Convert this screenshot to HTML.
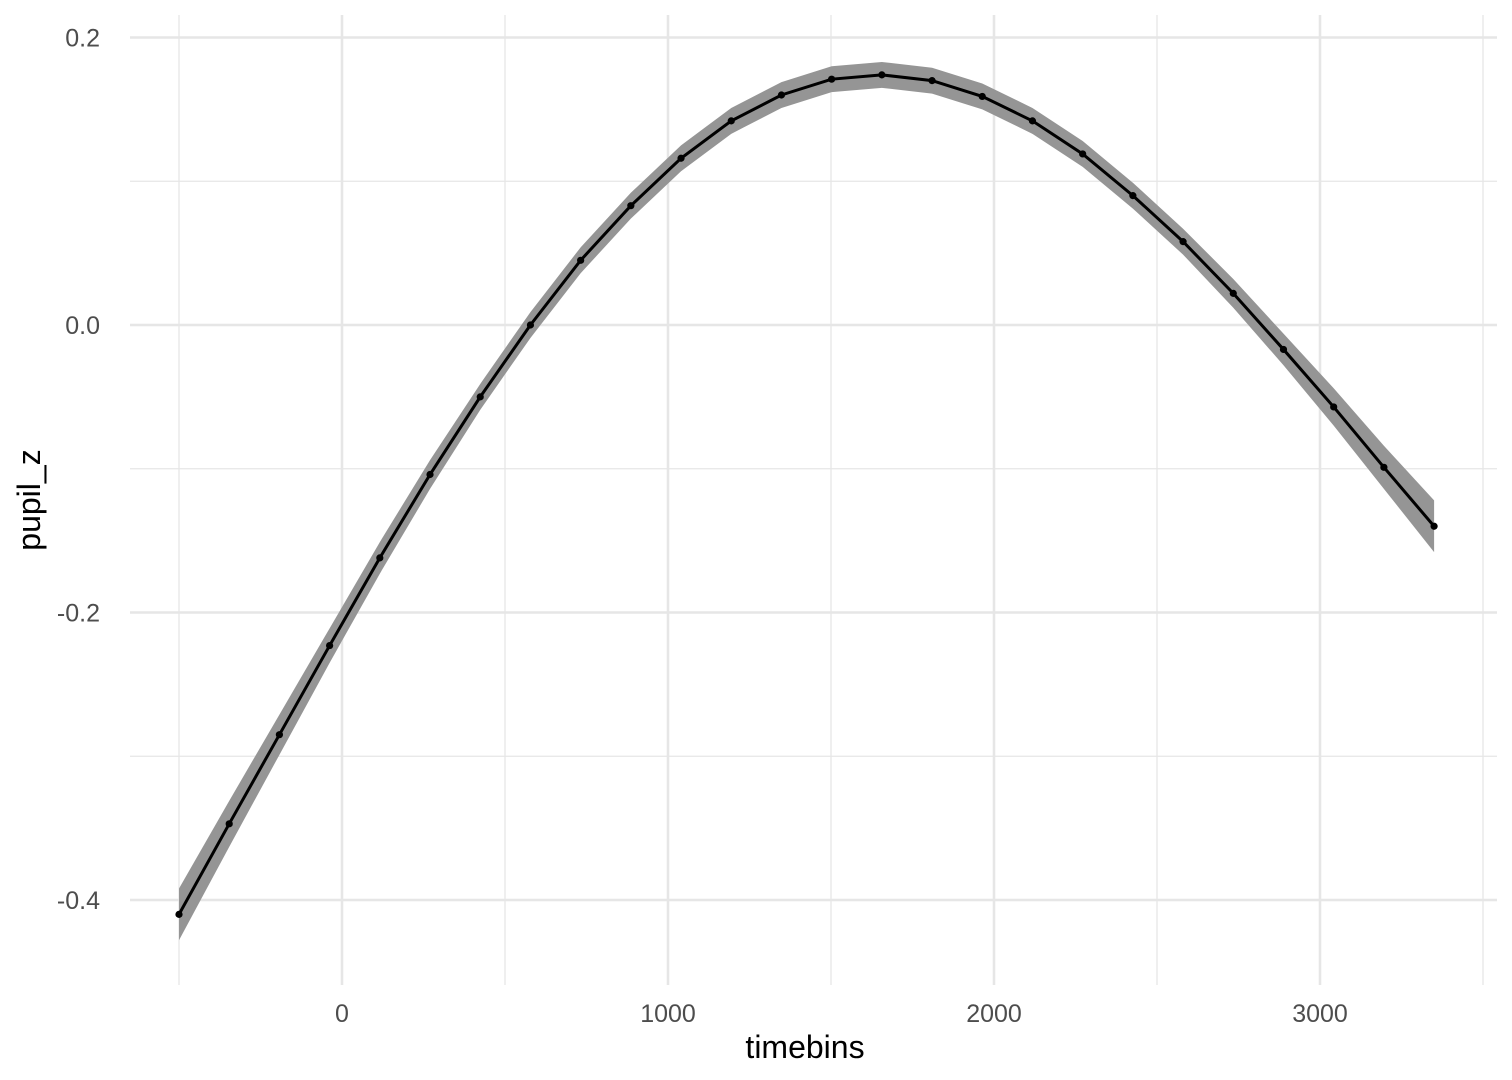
<!DOCTYPE html>
<html><head><meta charset="utf-8"><style>
body{margin:0;background:#fff;}
svg{display:block;font-family:"Liberation Sans",sans-serif;}
</style></head><body>
<svg id="chart" width="1512" height="1080"></svg>
<script>
const timebins=[-500,-346,-192,-38,116,270,424,578,732,886,1040,1194,1348,1502,1656,1810,1964,2118,2272,2426,2580,2734,2888,3042,3196,3350];
const pupil=[-0.410,-0.347,-0.285,-0.223,-0.162,-0.104,-0.050,0.000,0.045,0.083,0.116,0.142,0.160,0.171,0.174,0.170,0.159,0.142,0.119,0.090,0.058,0.022,-0.017,-0.057,-0.099,-0.140];
const halfBand=[0.018,0.016,0.014,0.012,0.011,0.010,0.009,0.009,0.009,0.009,0.009,0.009,0.009,0.009,0.009,0.009,0.009,0.009,0.009,0.009,0.009,0.010,0.011,0.013,0.015,0.018];
const xTicks=[0,1000,2000,3000];
const xMinor=[-500,500,1500,2500,3500];
const yTicks=[-0.4,-0.2,0.0,0.2];
const yMinor=[-0.3,-0.1,0.1];
const NS='http://www.w3.org/2000/svg';
const svg=document.getElementById('chart');
const L=130,R=1497,T=15,B=985;
const xs=v=>342+v*0.326;
const ys=v=>325-v*1437.5;
function mk(t,a){const e=document.createElementNS(NS,t);for(const k in a)e.setAttribute(k,a[k]);svg.appendChild(e);return e;}
xMinor.forEach(v=>{const e=mk('line',{x1:xs(v),x2:xs(v),y1:T,y2:B,stroke:'#e6e6e6','stroke-width':1.3});

});
yMinor.forEach(v=>{const e=mk('line',{x1:L,x2:R,y1:ys(v),y2:ys(v),stroke:'#e6e6e6','stroke-width':1.3});

});
xTicks.forEach(v=>{const e=mk('line',{x1:xs(v),x2:xs(v),y1:T,y2:B,stroke:'#e6e6e6','stroke-width':2.6});


const t=mk('text',{x:xs(v),y:1022,'text-anchor':'middle','font-size':25,fill:'#4d4d4d'});t.textContent=String(v);

});
yTicks.forEach(v=>{const e=mk('line',{x1:L,x2:R,y1:ys(v),y2:ys(v),stroke:'#e6e6e6','stroke-width':2.6});


const t=mk('text',{x:100,y:ys(v)+9,'text-anchor':'end','font-size':25,fill:'#4d4d4d'});t.textContent=v.toFixed(1);

});
const ribTop=timebins.map((t,i)=>xs(t)+','+ys(pupil[i]+halfBand[i]));
const ribBot=timebins.map((t,i)=>xs(t)+','+ys(pupil[i]-halfBand[i])).reverse();
const rib=mk('polygon',{points:ribTop.concat(ribBot).join(' '),fill:'#959595'});


const ln=mk('polyline',{points:timebins.map((t,i)=>xs(t)+','+ys(pupil[i])).join(' '),fill:'none',stroke:'#000','stroke-width':3});


timebins.forEach((t,i)=>{const c=mk('circle',{cx:xs(t),cy:ys(pupil[i]),r:3.6,fill:'#000'});

});
const xt=mk('text',{x:805,y:1058,'text-anchor':'middle','font-size':32,fill:'#000'});xt.textContent='timebins';


const yt=mk('text',{x:0,y:0,'text-anchor':'middle','font-size':32,fill:'#000',transform:'translate(40,500) rotate(-90)'});yt.textContent='pupil_z';


</script>
</body></html>
